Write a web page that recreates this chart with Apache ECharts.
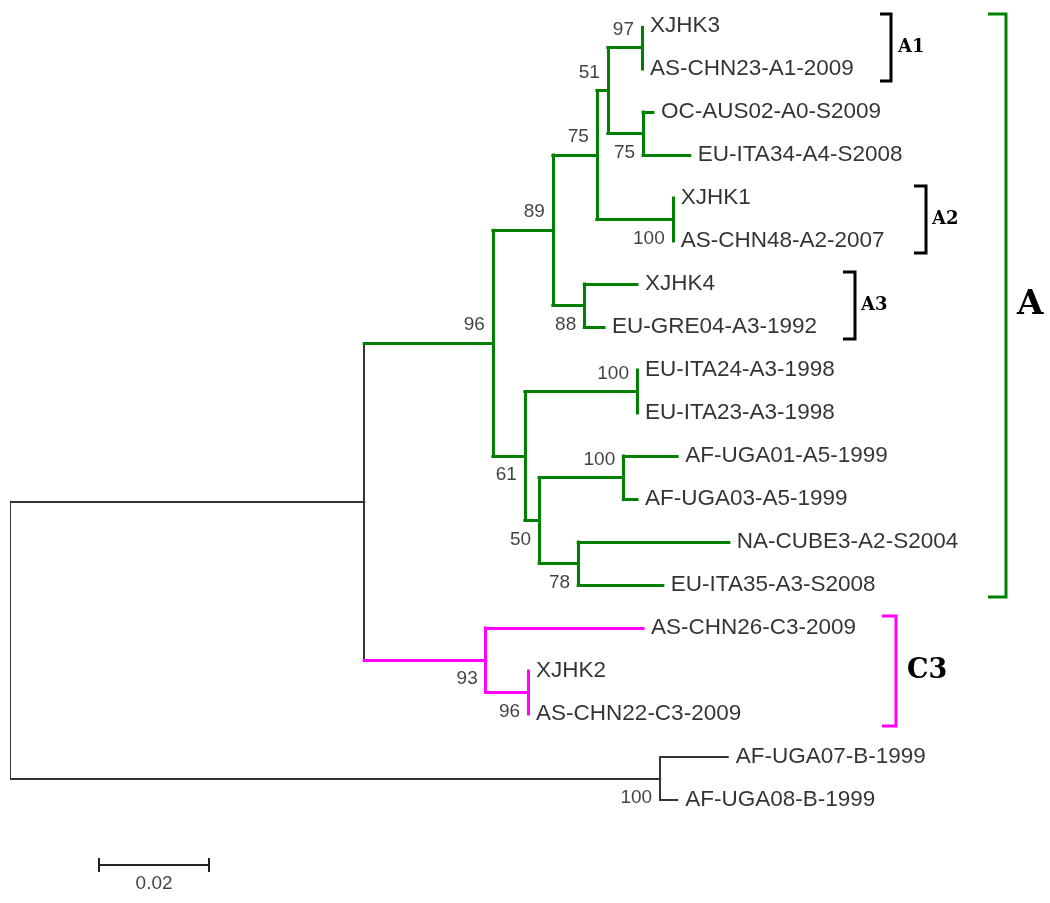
<!DOCTYPE html>
<html><head><meta charset="utf-8">
<script src="https://cdn.jsdelivr.net/npm/echarts@6/dist/echarts.min.js"></script>
<style>html,body{margin:0;padding:0;background:#fff}#c{width:1050px;height:903px}</style>
</head><body><div id="c"></div>
<script>
// ---- data ----
const leafNames = ['XJHK3','AS-CHN23-A1-2009','OC-AUS02-A0-S2009','EU-ITA34-A4-S2008','XJHK1','AS-CHN48-A2-2007',
  'XJHK4','EU-GRE04-A3-1992','EU-ITA24-A3-1998','EU-ITA23-A3-1998','AF-UGA01-A5-1999','AF-UGA03-A5-1999',
  'NA-CUBE3-A2-S2004','EU-ITA35-A3-S2008','AS-CHN26-C3-2009','XJHK2','AS-CHN22-C3-2009','AF-UGA07-B-1999','AF-UGA08-B-1999'];
const leafDepth = [0.1149,0.1149,0.1169,0.1236,0.1205,0.1205,0.1140,0.1080,0.1140,0.1140,0.1213,0.1140,
  0.1307,0.1187,0.1151,0.0942,0.0942,0.1305,0.1213];
const leafClade = ['A','A','A','A','A','A','A','A','A','A','A','A','A','A','C3','C3','C3','out','out'];
const nodeIds = ['root','ingroup','A','n89','n75','n51','n97','n75b','n100a','n88','n61','n100b','n50','n100c','n78','C3','n96','B'];
const nodeDepth = [0,0.0644,0.0878,0.0987,0.1067,0.1087,0.1149,0.1151,0.1205,0.1044,0.0936,0.1140,0.0962,0.1115,0.1033,0.0865,0.0942,0.1182];
const nodeChildren = [['ingroup','B'],['A','C3'],['n89','n61'],['n75','n88'],['n51','n100a'],['n97','n75b'],[0,1],[2,3],[4,5],[6,7],
  ['n100b','n50'],[8,9],['n100c','n78'],[10,11],[12,13],[14,'n96'],[15,16],[17,18]];
const nodeSupport = [null,null,96,89,75,51,97,75,100,88,61,100,50,100,78,93,96,100];
const nodeClade = ['out','out','A','A','A','A','A','A','A','A','A','A','A','A','A','C3','C3','out'];
const supportSide = ['','','above','above','above','above','above','below','below','below','below','above','below','above','below','below','below','below'];
const scaleBarLength = 0.02;
const scaleBarLabel = '0.02';
const groupNames = ['A1','A2','A3','A','C3'];
const groupFrom = [0,4,6,0,14];
const groupTo = [1,5,7,13,16];

// ---- styles ----
const colors = {A:'#008000', C3:'#ff00ff', out:'#333333'};
const widths = {A:3, C3:3, out:2};
const sans = "'Liberation Sans', Arial, sans-serif";
const serif = "'DejaVu Serif', serif";
const groupStyle = [
  {x:891, tick:11, color:'#000', lx:898, size:18},
  {x:926, tick:12, color:'#000', lx:932, size:18},
  {x:855, tick:12, color:'#000', lx:861, size:18},
  {x:1006, tick:18, color:'#008000', lx:1017, size:34},
  {x:896, tick:14, color:'#ff00ff', lx:907, size:27}
];

// ---- tree geometry via data coords ----
const nodeIndex = {}; nodeIds.forEach((id,i)=>nodeIndex[id]=i);
const nodeY = {};
function yOf(r){ if(typeof r==='number') return r; if(nodeY[r]===undefined){const ch=nodeChildren[nodeIndex[r]]; nodeY[r]=(yOf(ch[0])+yOf(ch[ch.length-1]))/2;} return nodeY[r]; }
function xOf(r){ return typeof r==='number'? leafDepth[r] : nodeDepth[nodeIndex[r]]; }
function cladeOf(r){ return typeof r==='number'? leafClade[r] : nodeClade[nodeIndex[r]]; }

const segs = [];
nodeIds.forEach((id,i)=>{
  const ch = nodeChildren[i], x = nodeDepth[i], c = nodeClade[i];
  segs.push({coords:[[x,yOf(ch[0])],[x,yOf(ch[ch.length-1])]], lineStyle:{color:colors[c], width:widths[c]}});
  ch.forEach(r=>{
    const cx = xOf(r), cc = cladeOf(r);
    if (cx > x) segs.push({coords:[[x,yOf(r)],[cx,yOf(r)]], lineStyle:{color:colors[cc], width:widths[cc]}});
  });
});

const supportData = [];
nodeIds.forEach((id,i)=>{
  if (nodeSupport[i] == null) return;
  supportData.push({value:[nodeDepth[i], yOf(id)], label:{formatter:String(nodeSupport[i]), offset:[0, supportSide[i]==='above'?-18:19]}});
});
const leafData = leafNames.map((n,i)=>({value:[leafDepth[i], i], name:n}));

const sbX = 0.0162, sbY = 19.51;
const scaleSegs = [
  {coords:[[sbX,sbY],[sbX+scaleBarLength,sbY]]},
  {coords:[[sbX,sbY-0.14],[sbX,sbY+0.14]]},
  {coords:[[sbX+scaleBarLength,sbY-0.14],[sbX+scaleBarLength,sbY+0.14]]}
];

const chart = echarts.init(document.getElementById('c'), null, {renderer:'canvas'});
chart.setOption({
  animation:false,
  backgroundColor:'#fff',
  grid:{left:10, top:26, width:990, height:860},
  xAxis:{type:'value', min:0, max:0.18, show:false},
  yAxis:{type:'value', min:0, max:20, inverse:true, show:false},
  series:[
    {type:'lines', coordinateSystem:'cartesian2d', silent:true, data:segs,
     lineStyle:{opacity:1, curveness:0, cap:'square'}},
    {type:'lines', coordinateSystem:'cartesian2d', silent:true, data:scaleSegs,
     lineStyle:{opacity:1, color:'#222', width:2, curveness:0, cap:'square'}},
    {type:'scatter', silent:true, symbolSize:0, data:leafData,
     label:{show:true, position:'right', distance:8, formatter:p=>p.name, color:'#000', fontSize:22.5, fontFamily:sans}},
    {type:'scatter', silent:true, symbolSize:0, data:supportData,
     label:{show:true, position:'left', distance:8, color:'#111', fontSize:19, fontFamily:sans}},
    {type:'scatter', silent:true, symbolSize:0, data:[{value:[sbX+scaleBarLength/2, sbY]}],
     label:{show:true, position:'bottom', distance:9, formatter:scaleBarLabel, color:'#111', fontSize:19, fontFamily:sans}}
  ]
});

const graphics = [];
groupNames.forEach((g,i)=>{
  const s = groupStyle[i];
  const y1 = chart.convertToPixel({gridIndex:0}, [0, groupFrom[i]])[1] - 12;
  const y2 = chart.convertToPixel({gridIndex:0}, [0, groupTo[i]])[1] + 12;
  graphics.push({type:'polyline', silent:true, shape:{points:[[s.x-s.tick,y1],[s.x,y1],[s.x,y2],[s.x-s.tick,y2]]},
    style:{stroke:s.color, lineWidth:3, fill:null}});
  graphics.push({type:'text', silent:true, x:s.lx, y:(y1+y2)/2,
    style:{text:g, fill:'#000', font:'bold '+s.size+'px '+serif, textAlign:'left', textVerticalAlign:'middle'}});
});
chart.setOption({graphic:graphics});
</script></body></html>
